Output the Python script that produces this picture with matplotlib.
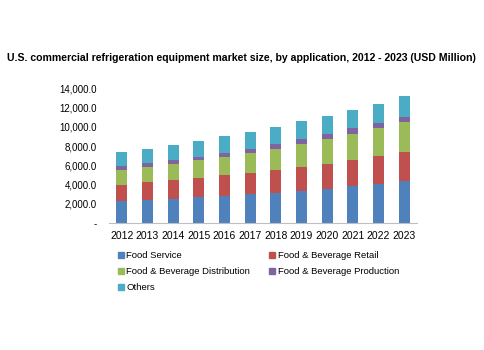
import matplotlib
matplotlib.use("Agg")
import matplotlib.pyplot as plt
from matplotlib.ticker import FuncFormatter
from matplotlib.lines import Line2D
import numpy as np

plt.rcParams['font.family'] = ['Liberation Sans', 'DejaVu Sans']

years = ['2012', '2013', '2014', '2015', '2016', '2017', '2018', '2019', '2020', '2021', '2022', '2023']
food_service = [2290, 2390, 2530, 2700, 2840, 3050, 3150, 3330, 3570, 3850, 4090, 4330]
fb_retail = [1660, 1840, 1980, 2010, 2150, 2150, 2390, 2490, 2600, 2740, 2880, 3090]
fb_distribution = [1590, 1590, 1660, 1810, 1870, 2080, 2160, 2430, 2530, 2700, 2880, 3080]
fb_production = [420, 420, 380, 380, 450, 450, 520, 450, 560, 590, 580, 520]
others = [1455, 1460, 1560, 1630, 1740, 1730, 1760, 1870, 1870, 1900, 1970, 2180]

series_names = ['Food Service', 'Food & Beverage Retail', 'Food & Beverage Distribution',
                'Food & Beverage Production', 'Others']
series = [food_service, fb_retail, fb_distribution, fb_production, others]
colors = ['#4F81BD', '#C0504D', '#9BBB59', '#8064A2', '#4BACC6']

fig = plt.figure(figsize=(4.85, 3.5), dpi=100)
ax = fig.add_axes([109/485, 1-223/350, (417-109)/485, (223-88.3)/350])

x = np.arange(len(years))
bottom = np.zeros(len(years))
for name, vals, c in zip(series_names, series, colors):
    ax.bar(x, vals, width=0.43, bottom=bottom, color=c, label=name)
    bottom += np.array(vals)

ax.set_xlim(-0.5, len(years) - 0.5)
ax.set_ylim(0, 14000)
ax.set_yticks(np.arange(0, 14001, 2000))
ax.yaxis.set_major_formatter(FuncFormatter(lambda v, p: '-' if v == 0 else f'{v:,.1f}'))
ax.set_xticks(x)
ax.set_xticklabels(years)
ax.tick_params(axis='x', length=0, labelsize=7.5, colors='#000000', pad=6)
ax.tick_params(axis='y', length=0, labelsize=7, colors='#000000', pad=9)
for s in ['top', 'right', 'left']:
    ax.spines[s].set_visible(False)
ax.spines['bottom'].set_color('#BFBFBF')
ax.spines['bottom'].set_linewidth(0.8)

fig.text(241/485, 1-58/350, 'U.S. commercial refrigeration equipment market size, by application, 2012 - 2023 (USD Million)',
         ha='center', va='center', fontsize=7.6, fontweight='bold')

handles = [Line2D([0], [0], marker='s', linestyle='none', markersize=3.8, markerfacecolor=c,
                  markeredgecolor=c) for c in colors]
order = [0, 2, 4, 1, 3]
fig.legend([handles[i] for i in order], [series_names[i] for i in order],
           loc='upper left', bbox_to_anchor=(118/485, 1-251/350),
           ncol=2, frameon=False, fontsize=6.8, handlelength=0.6, handletextpad=0.3,
           columnspacing=2.0, labelspacing=0.75, borderaxespad=0, borderpad=0)

fig.savefig('out.png', dpi=100, facecolor='white')
